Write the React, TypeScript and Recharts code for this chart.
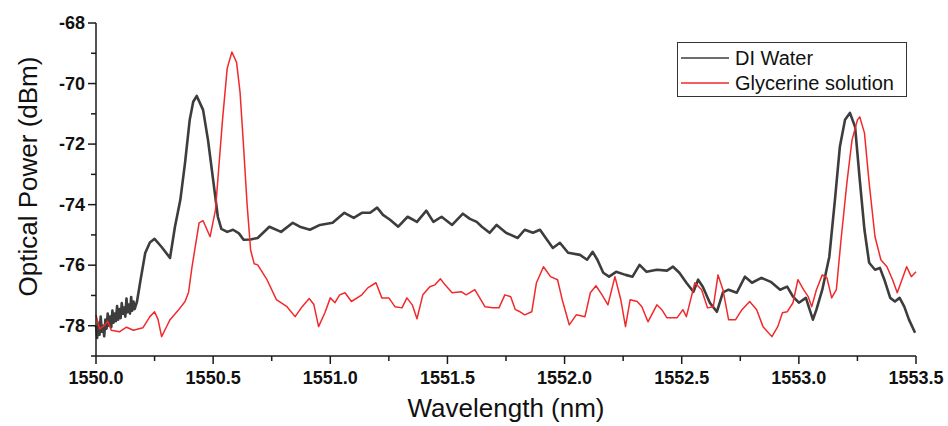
import React from 'react';
import { LineChart, Line, XAxis, YAxis } from 'recharts';

// [wavelength (nm), optical power (dBm)]
const diWater: [number, number][] = [
  [1550.0, -78.0], [1550.005, -78.4], [1550.01, -77.9], [1550.015, -78.3], [1550.02, -77.7],
  [1550.025, -78.2], [1550.03, -78.0], [1550.035, -78.35], [1550.04, -77.8], [1550.045, -78.1],
  [1550.05, -77.6], [1550.055, -78.0], [1550.06, -77.7], [1550.065, -78.05], [1550.07, -77.5],
  [1550.075, -77.9], [1550.08, -77.6], [1550.085, -77.85], [1550.09, -77.35], [1550.095, -77.8],
  [1550.1, -77.45], [1550.105, -77.75], [1550.11, -77.25], [1550.115, -77.6], [1550.12, -77.4],
  [1550.125, -77.7], [1550.13, -77.1], [1550.135, -77.55], [1550.14, -77.3], [1550.145, -77.6],
  [1550.15, -77.05], [1550.155, -77.5], [1550.16, -77.2], [1550.165, -77.45], [1550.175, -77.2],
  [1550.19, -76.5], [1550.21, -75.6],
  [1550.23, -75.25], [1550.25, -75.13], [1550.28, -75.4], [1550.316, -75.76], [1550.337, -74.73],
  [1550.36, -73.84], [1550.38, -72.62], [1550.4, -71.2], [1550.415, -70.6], [1550.43, -70.41],
  [1550.457, -70.87], [1550.478, -71.86], [1550.5, -73.18], [1550.52, -74.4], [1550.535, -74.8],
  [1550.56, -74.9], [1550.585, -74.83], [1550.61, -74.95], [1550.63, -75.16], [1550.66, -75.15],
  [1550.69, -75.1], [1550.74, -74.73], [1550.79, -74.9], [1550.84, -74.6], [1550.87, -74.73],
  [1550.913, -74.83], [1550.956, -74.67], [1551.01, -74.6], [1551.06, -74.27], [1551.1, -74.44],
  [1551.135, -74.27], [1551.17, -74.27], [1551.2, -74.1], [1551.225, -74.34], [1551.255, -74.5],
  [1551.29, -74.73], [1551.33, -74.4], [1551.37, -74.57], [1551.41, -74.2], [1551.44, -74.57],
  [1551.475, -74.4], [1551.52, -74.67], [1551.566, -74.3], [1551.596, -74.47], [1551.625, -74.57],
  [1551.647, -74.73], [1551.68, -74.93], [1551.71, -74.67], [1551.75, -74.93], [1551.8, -75.1],
  [1551.83, -74.83], [1551.865, -74.93], [1551.895, -74.83], [1551.925, -75.16], [1551.95, -75.43],
  [1551.98, -75.26], [1552.015, -75.59], [1552.066, -75.66], [1552.096, -75.82], [1552.12, -75.56],
  [1552.14, -75.82], [1552.165, -76.25], [1552.19, -76.38], [1552.22, -76.22], [1552.26, -76.32],
  [1552.29, -76.38], [1552.32, -75.99], [1552.35, -76.22], [1552.394, -76.15], [1552.437, -76.18],
  [1552.463, -76.05], [1552.49, -76.25], [1552.52, -76.58], [1552.55, -76.88], [1552.57, -76.48],
  [1552.59, -76.71], [1552.62, -77.24], [1552.65, -77.54], [1552.676, -76.9], [1552.7, -76.81],
  [1552.735, -76.91], [1552.77, -76.38], [1552.8, -76.58], [1552.84, -76.42], [1552.88, -76.55],
  [1552.92, -76.81], [1552.95, -76.71], [1552.975, -77.04], [1553.0, -77.24], [1553.03, -77.08],
  [1553.06, -77.8], [1553.075, -77.47], [1553.1, -76.81], [1553.13, -75.72], [1553.154, -73.84],
  [1553.175, -72.09], [1553.197, -71.2], [1553.218, -70.97], [1553.24, -71.43], [1553.26, -73.18],
  [1553.28, -74.83], [1553.3, -75.92], [1553.325, -76.15], [1553.346, -76.09], [1553.365, -76.48],
  [1553.39, -77.08], [1553.41, -77.2], [1553.43, -77.08], [1553.45, -77.37], [1553.47, -77.8],
  [1553.496, -78.23],
];

const glycerine: [number, number][] = [
  [1550.0, -77.64], [1550.015, -78.1], [1550.035, -78.0], [1550.05, -77.85], [1550.065, -78.15],
  [1550.1, -78.2], [1550.13, -78.05], [1550.16, -78.15], [1550.2, -78.07], [1550.23, -77.7],
  [1550.25, -77.54], [1550.265, -77.8], [1550.28, -78.36], [1550.3, -78.05], [1550.316, -77.8],
  [1550.35, -77.5], [1550.38, -77.2], [1550.395, -76.9], [1550.41, -76.05], [1550.44, -74.6], [1550.457, -74.53],
  [1550.487, -75.06], [1550.51, -74.17], [1550.54, -71.2], [1550.56, -69.5], [1550.58, -68.96],
  [1550.6, -69.3], [1550.615, -70.3], [1550.63, -72.1], [1550.645, -74.0], [1550.66, -75.5],
  [1550.675, -75.95], [1550.69, -75.99], [1550.73, -76.48], [1550.77, -77.14], [1550.815, -77.37],
  [1550.85, -77.7], [1550.88, -77.37], [1550.91, -77.1], [1550.93, -77.3], [1550.95, -78.03],
  [1550.977, -77.57], [1551.0, -77.08], [1551.02, -77.24], [1551.04, -76.98], [1551.063, -76.91],
  [1551.09, -77.2], [1551.135, -76.98], [1551.16, -76.75], [1551.195, -76.58], [1551.22, -77.08],
  [1551.25, -77.08], [1551.276, -77.37], [1551.306, -77.41], [1551.327, -77.08], [1551.35, -77.31],
  [1551.37, -77.77], [1551.395, -76.98], [1551.425, -76.71], [1551.447, -76.65], [1551.47, -76.45],
  [1551.49, -76.65], [1551.52, -76.91], [1551.56, -76.88], [1551.58, -76.98], [1551.617, -76.81],
  [1551.66, -77.37], [1551.694, -77.41], [1551.72, -77.41], [1551.745, -76.98], [1551.77, -77.04],
  [1551.79, -77.47], [1551.81, -77.54], [1551.83, -77.64], [1551.86, -77.54], [1551.88, -76.58],
  [1551.91, -76.05], [1551.94, -76.38], [1551.97, -76.48], [1551.99, -77.14], [1552.02, -77.97],
  [1552.05, -77.64], [1552.087, -77.7], [1552.11, -76.91], [1552.134, -76.68], [1552.16, -76.98],
  [1552.185, -77.31], [1552.215, -76.38], [1552.24, -77.14], [1552.26, -78.03], [1552.28, -77.14],
  [1552.31, -77.2], [1552.33, -77.37], [1552.356, -77.87], [1552.394, -77.31], [1552.415, -77.47],
  [1552.437, -77.74], [1552.48, -77.74], [1552.505, -77.47], [1552.52, -77.7], [1552.556, -76.58],
  [1552.585, -76.81], [1552.61, -77.41], [1552.635, -77.37], [1552.655, -76.32], [1552.676, -76.81],
  [1552.7, -77.8], [1552.73, -77.8], [1552.757, -77.47], [1552.79, -77.2], [1552.82, -77.47],
  [1552.847, -78.03], [1552.885, -78.36], [1552.91, -78.03], [1552.93, -77.57], [1552.95, -77.54],
  [1552.975, -77.24], [1552.996, -76.48], [1553.02, -76.81], [1553.04, -77.04], [1553.055, -77.37],
  [1553.075, -76.81], [1553.1, -76.32], [1553.12, -76.42], [1553.14, -77.08], [1553.16, -76.81],
  [1553.18, -75.16], [1553.205, -73.28], [1553.227, -71.86], [1553.25, -71.2], [1553.26, -71.1],
  [1553.28, -71.63], [1553.3, -73.28], [1553.325, -75.06], [1553.35, -75.82], [1553.376, -76.05],
  [1553.4, -76.48], [1553.42, -76.91], [1553.44, -76.48], [1553.46, -76.05], [1553.48, -76.38],
  [1553.5, -76.22],
];

const xTicks = [
  1550, 1550.25, 1550.5, 1550.75, 1551, 1551.25, 1551.5, 1551.75,
  1552, 1552.25, 1552.5, 1552.75, 1553, 1553.25, 1553.5,
];
const yTicks = [-79, -78, -77, -76, -75, -74, -73, -72, -71, -70, -69, -68];

const SERIES = [
  { name: 'DI Water', color: '#3d3d3d', width: 2.6, points: diWater },
  { name: 'Glycerine solution', color: '#f2292b', width: 1.5, points: glycerine },
];

const AXIS = '#1a1a1a';
const FONT = '"Liberation Sans", Arial, sans-serif';

const toRows = (pts: [number, number][]) => pts.map(([w, p]) => ({ w, p }));

function YTick({ x, y, payload }: any) {
  const major = payload.value % 2 === 0;
  const len = major ? 8 : 5;
  return (
    <g>
      <line x1={x} x2={x - len} y1={y} y2={y} stroke={AXIS} strokeWidth={1.5} />
      {major && (
        <text x={x - 11} y={y} dy="0.35em" textAnchor="end" fontSize={18} fontWeight="bold" fontFamily={FONT} fill="#111">
          {payload.value}
        </text>
      )}
    </g>
  );
}

function XTick({ x, y, payload }: any) {
  const v = payload.value;
  const major = Math.abs(v * 2 - Math.round(v * 2)) < 1e-6;
  const len = major ? 8 : 5;
  return (
    <g>
      <line x1={x} x2={x} y1={y} y2={y + len} stroke={AXIS} strokeWidth={1.5} />
      {major && (
        <text x={x} y={y + 22} dy="0.35em" textAnchor="middle" fontSize={18} fontWeight="bold" fontFamily={FONT} fill="#111">
          {v.toFixed(1)}
        </text>
      )}
    </g>
  );
}

function LegendBox() {
  return (
    <div
      style={{
        position: 'absolute',
        left: 677,
        top: 42,
        width: 230,
        height: 55,
        boxSizing: 'border-box',
        border: '1px solid #333',
        background: '#fff',
        fontFamily: FONT,
        fontSize: 20,
        color: '#111',
      }}
    >
      {SERIES.map((s, i) => (
        <div key={s.name} style={{ position: 'absolute', left: 0, top: 3 + i * 25, height: 24, display: 'flex', alignItems: 'center' }}>
          <svg width={56} height={24}>
            <line x1={3} x2={51} y1={12} y2={12} stroke={s.color} strokeWidth={1.5} />
          </svg>
          <span style={{ marginLeft: 1, whiteSpace: 'nowrap' }}>{s.name}</span>
        </div>
      ))}
    </div>
  );
}

export default function App() {
  return (
    <div style={{ position: 'absolute', left: 0, top: 0, width: 948, height: 426, background: '#fff' }}>
      <LineChart width={948} height={426} margin={{ top: 23, right: 32, bottom: 0, left: 0 }}>
        <XAxis
          dataKey="w"
          type="number"
          domain={[1550, 1553.5]}
          ticks={xTicks}
          interval={0}
          allowDuplicatedCategory={false}
          height={70}
          tickSize={0}
          tickMargin={0}
          tick={<XTick />}
          axisLine={{ stroke: AXIS, strokeWidth: 1.5 }}
          label={({ viewBox }: any) => (
            <text
              x={viewBox.x + viewBox.width / 2}
              y={viewBox.y + 61}
              textAnchor="middle"
              fontSize={26}
              fontFamily={FONT}
              fill="#111"
            >
              Wavelength (nm)
            </text>
          )}
        />
        <YAxis
          type="number"
          domain={[-79, -68]}
          ticks={yTicks}
          interval={0}
          width={96}
          tickSize={0}
          tickMargin={0}
          tick={<YTick />}
          axisLine={{ stroke: AXIS, strokeWidth: 1.5 }}
          label={({ viewBox }: any) => {
            const cx = viewBox.x + 28;
            const cy = viewBox.y + viewBox.height / 2 - 13;
            return (
              <text
                x={cx}
                y={cy}
                transform={`rotate(-90 ${cx} ${cy})`}
                textAnchor="middle"
                dominantBaseline="central"
                fontSize={26}
                fontFamily={FONT}
                fill="#111"
              >
                Optical Power (dBm)
              </text>
            );
          }}
        />
        {SERIES.map((s) => (
          <Line
            key={s.name}
            name={s.name}
            data={toRows(s.points)}
            dataKey="p"
            type="linear"
            stroke={s.color}
            strokeWidth={s.width}
            strokeLinejoin="round"
            dot={false}
            activeDot={false}
            isAnimationActive={false}
          />
        ))}
      </LineChart>
      <LegendBox />
    </div>
  );
}
